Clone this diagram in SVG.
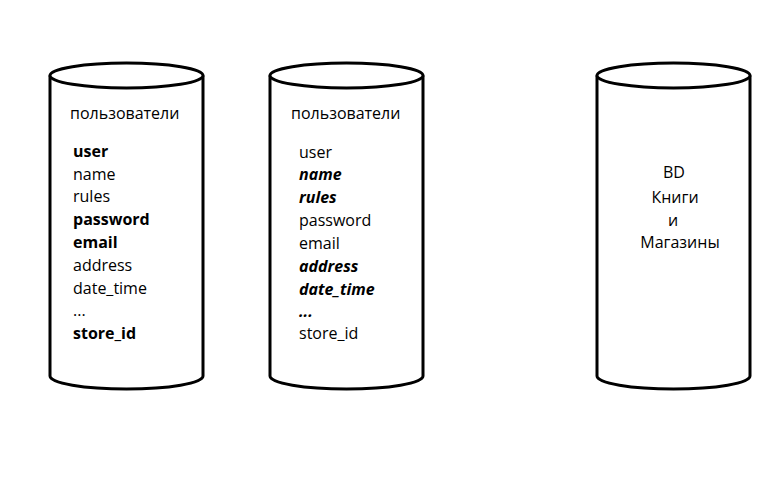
<svg xmlns="http://www.w3.org/2000/svg" width="779" height="485" viewBox="0 0 779 485">
<style>
.cyl{fill:#fff;stroke:#000;stroke-width:3}
text{font-family:"Open Sans","DejaVu Sans",sans-serif;font-size:16px;fill:#000}
.b{font-weight:bold}
.bi{font-weight:bold;font-style:italic}
.c{text-anchor:middle}
</style>
<rect width="779" height="485" fill="#fff"/>
<g id="db1">
<path class="cyl" d="M50,75.5 L50,376 A76.5,13 0 0 0 203,376 L203,75.5"/>
<ellipse class="cyl" cx="126.5" cy="75.5" rx="76.5" ry="12.5"/>
<text x="70" y="119">пользователи</text>
<text x="73" y="157" class="b">user</text>
<text x="73" y="180">name</text>
<text x="73" y="202">rules</text>
<text x="73" y="225" class="b">password</text>
<text x="73" y="248" class="b">email</text>
<text x="73" y="271">address</text>
<text x="73" y="294">date_time</text>
<text x="73" y="316">...</text>
<text x="73" y="339" class="b">store_id</text>
</g>
<g id="db2">
<path class="cyl" d="M270,75.5 L270,376 A76.5,13 0 0 0 423,376 L423,75.5"/>
<ellipse class="cyl" cx="346.5" cy="75.5" rx="76.5" ry="12.5"/>
<text x="291" y="119">пользователи</text>
<text x="299" y="158">user</text>
<text x="299" y="180" class="bi">name</text>
<text x="299" y="203" class="bi">rules</text>
<text x="299" y="226">password</text>
<text x="299" y="249">email</text>
<text x="299" y="272" class="bi">address</text>
<text x="299" y="295" class="bi">date_time</text>
<text x="299" y="317" class="bi">...</text>
<text x="299" y="339">store_id</text>
</g>
<g id="db3">
<path class="cyl" d="M597,75.5 L597,376 A76.5,13 0 0 0 750,376 L750,75.5"/>
<ellipse class="cyl" cx="673.5" cy="75.5" rx="76.5" ry="12.5"/>
<text x="674" y="178" class="c">BD</text>
<text x="675" y="203" class="c">Книги</text>
<text x="673" y="226" class="c">и</text>
<text x="680" y="248" class="c">Магазины</text>
</g>
<g id="connectors"></g>
</svg>
